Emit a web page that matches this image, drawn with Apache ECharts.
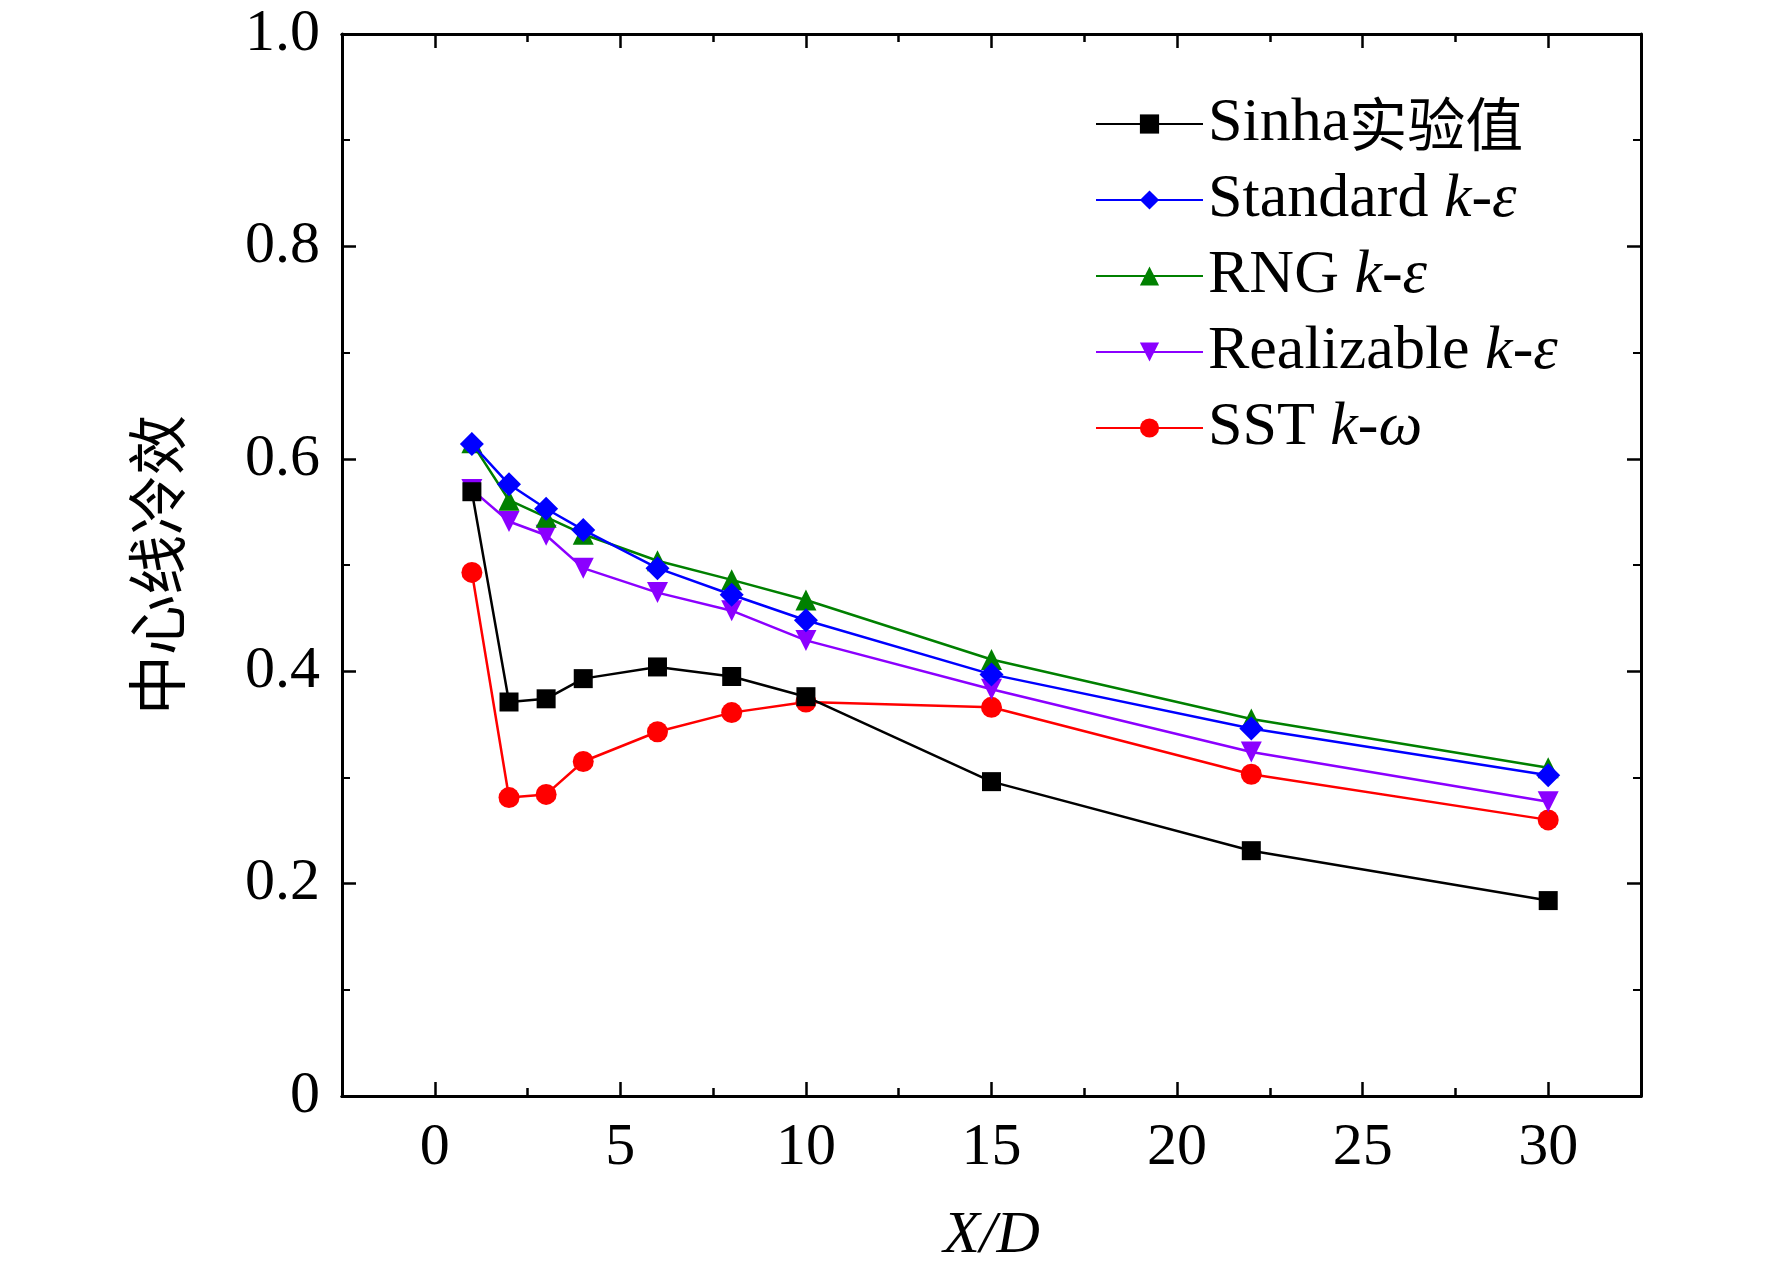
<!DOCTYPE html>
<html><head><meta charset="utf-8">
<script src="https://cdn.jsdelivr.net/npm/echarts@6/dist/echarts.min.js"></script>
<style>html,body{margin:0;background:#fff}#c{width:1772px;height:1285px}</style>
</head><body><div id="c"></div>
<script>
const xs = [1,2,3,4,6,8,10,15,22,30];
const sinha = [0.569,0.371,0.374,0.393,0.404,0.395,0.376,0.296,0.231,0.184];
const standard = [0.614,0.576,0.553,0.533,0.497,0.472,0.448,0.397,0.346,0.302];
const rng = [0.615,0.561,0.545,0.529,0.504,0.486,0.467,0.411,0.355,0.309];
const realizable = [0.571,0.541,0.528,0.497,0.474,0.457,0.429,0.383,0.324,0.277];
const sst = [0.493,0.281,0.284,0.315,0.343,0.361,0.371,0.366,0.303,0.260];
const xMajor = [0,5,10,15,20,25,30];
const xMinor = [-2.5,2.5,7.5,12.5,17.5,22.5,27.5,32.5];
const names = ['Sinha实验值','Standard k-ε','RNG k-ε','Realizable k-ε','SST k-ω'];
const legendRich = {
 'Sinha实验值':'{n|Sinha}{c|实验值}',
 'Standard k-ε':'{n|Standard }{i|k-ε}',
 'RNG k-ε':'{n|RNG }{i|k-ε}',
 'Realizable k-ε':'{n|Realizable }{i|k-ε}',
 'SST k-ω':'{n|SST }{i|k-ω}'
};
const F = 'Liberation Serif';
const cols = ['#000000','#0000ff','#008000','#8b00ff','#ff0000'];
const syms = ['rect','diamond','triangle','path://M0,0 L10,0 L5,9 Z','circle'];
const vals = [sinha,standard,rng,realizable,sst];
const chart = echarts.init(document.getElementById('c'));
const line = {show:true,onZero:false,lineStyle:{color:'#000',width:3}};
function xax(pos, ticks, len, labels){
 return {type:'value',min:-2.5,max:32.5,position:pos,
  axisLine:line,splitLine:{show:false},
  axisTick:{show:true,inside:true,length:len,customValues:ticks,lineStyle:{color:'#000',width:2.5}},
  axisLabel:labels?{fontFamily:F,fontSize:60,color:'#000',margin:22,customValues:xMajor}:{show:false}};
}
const xa0 = xax('bottom',xMajor,14,true);
xa0.name='X/D';xa0.nameLocation='middle';xa0.nameGap=110;
xa0.nameTextStyle={fontFamily:F,fontSize:60,fontStyle:'italic',color:'#000'};
function yax(pos,labels){
 return {type:'value',min:0,max:1,interval:0.2,position:pos,
  axisLine:line,splitLine:{show:false},
  axisTick:{show:true,inside:true,length:14,lineStyle:{color:'#000',width:2.5}},
  minorTick:{show:true,splitNumber:2,length:8,lineStyle:{color:'#000',width:2}},
  axisLabel:labels?{fontFamily:F,fontSize:60,color:'#000',margin:22,formatter:v=>v===0?'0':v.toFixed(1)}:{show:false}};
}
const ya0 = yax('left',true);
ya0.name='中心线冷效';ya0.nameLocation='middle';ya0.nameGap=155;
ya0.nameTextStyle={fontFamily:'Noto Sans CJK SC',fontSize:60,color:'#000'};
chart.setOption({
 animation:false,
 grid:{left:342,right:131,top:34,bottom:189},
 legend:{orient:'vertical',left:1090,top:88,itemWidth:107,itemHeight:24,itemGap:14,
  data:names,formatter:n=>legendRich[n],
  textStyle:{rich:{n:{fontFamily:F,fontSize:62,color:'#000'},i:{fontFamily:F,fontSize:62,fontStyle:'italic',color:'#000'},c:{fontFamily:'Noto Sans CJK SC',fontSize:58,color:'#000'}}}},
 xAxis:[xa0, xax('bottom',xMinor,8,false), xax('top',xMajor,14,false), xax('top',xMinor,8,false)],
 yAxis:[ya0, yax('right',false)],
 series:names.map((n,k)=>({
  name:n,type:'line',data:xs.map((x,i)=>[x,vals[k][i]]),
  symbol:syms[k],symbolSize:k===0?19:(k===1?24:21),
  lineStyle:{color:cols[k],width:2.5},itemStyle:{color:cols[k]},z:10-k
 }))
});
</script></body></html>
